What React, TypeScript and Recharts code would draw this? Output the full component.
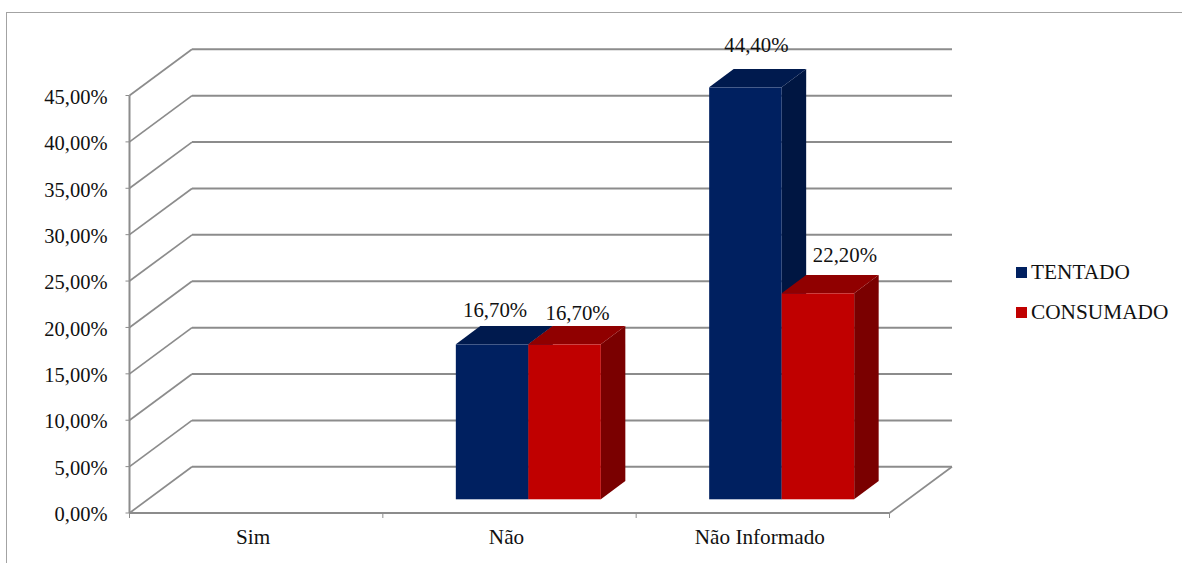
import { Bar, BarChart, CartesianGrid, LabelList, Legend, XAxis, YAxis } from "recharts";

const categories = ["Sim", "Não", "Não Informado"];
const tentado = [null, 16.7, 44.4];
const consumado = [null, 16.7, 22.2];
const yTicks = [0, 5, 10, 15, 20, 25, 30, 35, 40, 45];

const rows = categories.map((name, i) => ({ name, tentado: tentado[i], consumado: consumado[i] }));

const FONT = "'Liberation Serif', serif";
const TEXT = "#111111";
const LINE = "#8c8c8c";

// fake 3D: wall depth for the grid, floor shift and extrusion for the columns
const WALL_DX = 62.5;
const WALL_DY = 46.2;
const FLOOR_DX = 19;
const FLOOR_DY = 13.7;
const BAR_DX = 24.5;
const BAR_DY = 18.4;

const SERIES = {
  tentado: { label: "TENTADO", front: "#002060", top: "#001a4e", side: "#001642" },
  consumado: { label: "CONSUMADO", front: "#c00000", top: "#900000", side: "#7a0000" },
};

// data labels sit where the spreadsheet left them; one entry per drawn column,
// since LabelList skips the empty "Sim" values
const labelNudge = {
  tentado: [{ dx: 3, dy: -49 }, { dx: 11, dy: -57 }],
  consumado: [{ dx: 13, dy: -46 }, { dx: 27, dy: -53 }],
};

const pct = (v: number) => `${v.toFixed(2).replace(".", ",")}%`;

function Column({ x, y, width, height, colors }: any) {
  if (!height || height <= 0) return null;
  const l = x + FLOOR_DX;
  const r = l + width;
  const t = y - FLOOR_DY;
  const b = t + height;
  return (
    <g>
      <polygon
        points={`${r},${t} ${r + BAR_DX},${t - BAR_DY} ${r + BAR_DX},${b - BAR_DY} ${r},${b}`}
        fill={colors.side}
      />
      <polygon
        points={`${l},${t} ${l + BAR_DX},${t - BAR_DY} ${r + BAR_DX},${t - BAR_DY} ${r},${t}`}
        fill={colors.top}
      />
      <rect x={l} y={t} width={width} height={height} fill={colors.front} />
    </g>
  );
}

function ValueLabel({ x, y, width, value, index, nudges }: any) {
  const n = nudges[index];
  if (value == null || !n) return null;
  return (
    <text
      x={x + width / 2 + FLOOR_DX + n.dx}
      y={y + n.dy}
      textAnchor="middle"
      dominantBaseline="central"
      fontFamily={FONT}
      fontSize={20.8}
      fill={TEXT}
    >
      {pct(value)}
    </text>
  );
}

// each horizontal runs up the side wall and then along the back wall
function WallLine({ x1, y1, x2, y, height }: any) {
  const backY = y1 - WALL_DY;
  const isFloor = Math.abs(y1 - (y + height)) < 0.5;
  return (
    <g fill="none" stroke={LINE}>
      <path d={`M${x1},${y1}L${x1 + WALL_DX},${backY}`} strokeWidth={1.7} />
      <path d={`M${x1 + WALL_DX},${backY}H${x2 + WALL_DX}`} strokeWidth={2} />
      {isFloor && <path d={`M${x2},${y1}L${x2 + WALL_DX},${backY}`} strokeWidth={1.7} />}
    </g>
  );
}

// category ticks fall on the band edges, the names in the band centres
function CategoryTick({ x, y, payload, index }: any) {
  const half = payload.offset ?? 0;
  return (
    <g>
      <line x1={x - half} x2={x - half} y1={y} y2={y + 5} stroke={LINE} />
      {index === categories.length - 1 && (
        <line x1={x + half} x2={x + half} y1={y} y2={y + 5} stroke={LINE} />
      )}
      <text
        x={x - 3}
        y={y + 24}
        textAnchor="middle"
        dominantBaseline="central"
        fontFamily={FONT}
        fontSize={21.2}
        fill={TEXT}
      >
        {payload.value}
      </text>
    </g>
  );
}

function LegendBox() {
  return (
    <div style={{ fontFamily: FONT, fontSize: 21.3, color: TEXT, lineHeight: "40px", whiteSpace: "nowrap" }}>
      {Object.values(SERIES).map((s) => (
        <div key={s.label} style={{ display: "flex", alignItems: "center", height: 40 }}>
          <span style={{ width: 11, height: 11, background: s.front, marginRight: 4 }} />
          {s.label}
        </div>
      ))}
    </div>
  );
}

export default function App() {
  return (
    <div style={{ position: "absolute", left: 0, top: 0, width: 1182, height: 563, background: "#fff", overflow: "hidden" }}>
      <div
        style={{
          position: "absolute",
          left: 6,
          top: 12,
          right: -4,
          bottom: -4,
          borderLeft: "1.5px solid #a3a3a3",
          borderTop: "1.5px solid #a3a3a3",
        }}
      />
      <div style={{ position: "absolute", left: 0, top: 0 }}>
        <BarChart
          width={1182}
          height={563}
          data={rows}
          margin={{ top: 95.5, right: 292.5, bottom: 0, left: 0 }}
          barSize={72.5}
          barGap={0}
        >
          <CartesianGrid vertical={false} horizontal={(props: any) => <WallLine key={props.key} {...props} />} />
          <XAxis
            dataKey="name"
            height={50}
            interval={0}
            tickSize={0}
            tickMargin={0}
            tickLine={false}
            axisLine={{ stroke: LINE, strokeWidth: 2 }}
            tick={<CategoryTick />}
          />
          <YAxis
            width={129.5}
            domain={[0, 45]}
            ticks={yTicks}
            interval={0}
            tickSize={4}
            tickMargin={18}
            tickFormatter={pct}
            axisLine={{ stroke: LINE, strokeWidth: 2 }}
            tickLine={{ stroke: LINE }}
            tick={{ fontFamily: FONT, fontSize: 20.5, fill: TEXT, dy: 1 }}
          />
          <Bar
            dataKey="tentado"
            isAnimationActive={false}
            shape={(p: any) => <Column {...p} colors={SERIES.tentado} />}
          >
            <LabelList dataKey="tentado" content={(p: any) => <ValueLabel {...p} nudges={labelNudge.tentado} />} />
          </Bar>
          <Bar
            dataKey="consumado"
            isAnimationActive={false}
            shape={(p: any) => <Column {...p} colors={SERIES.consumado} />}
          >
            <LabelList dataKey="consumado" content={(p: any) => <ValueLabel {...p} nudges={labelNudge.consumado} />} />
          </Bar>
          <Legend
            layout="vertical"
            align="center"
            verticalAlign="middle"
            width={170}
            wrapperStyle={{ left: 1016, top: 252 }}
            content={<LegendBox />}
          />
        </BarChart>
      </div>
    </div>
  );
}
